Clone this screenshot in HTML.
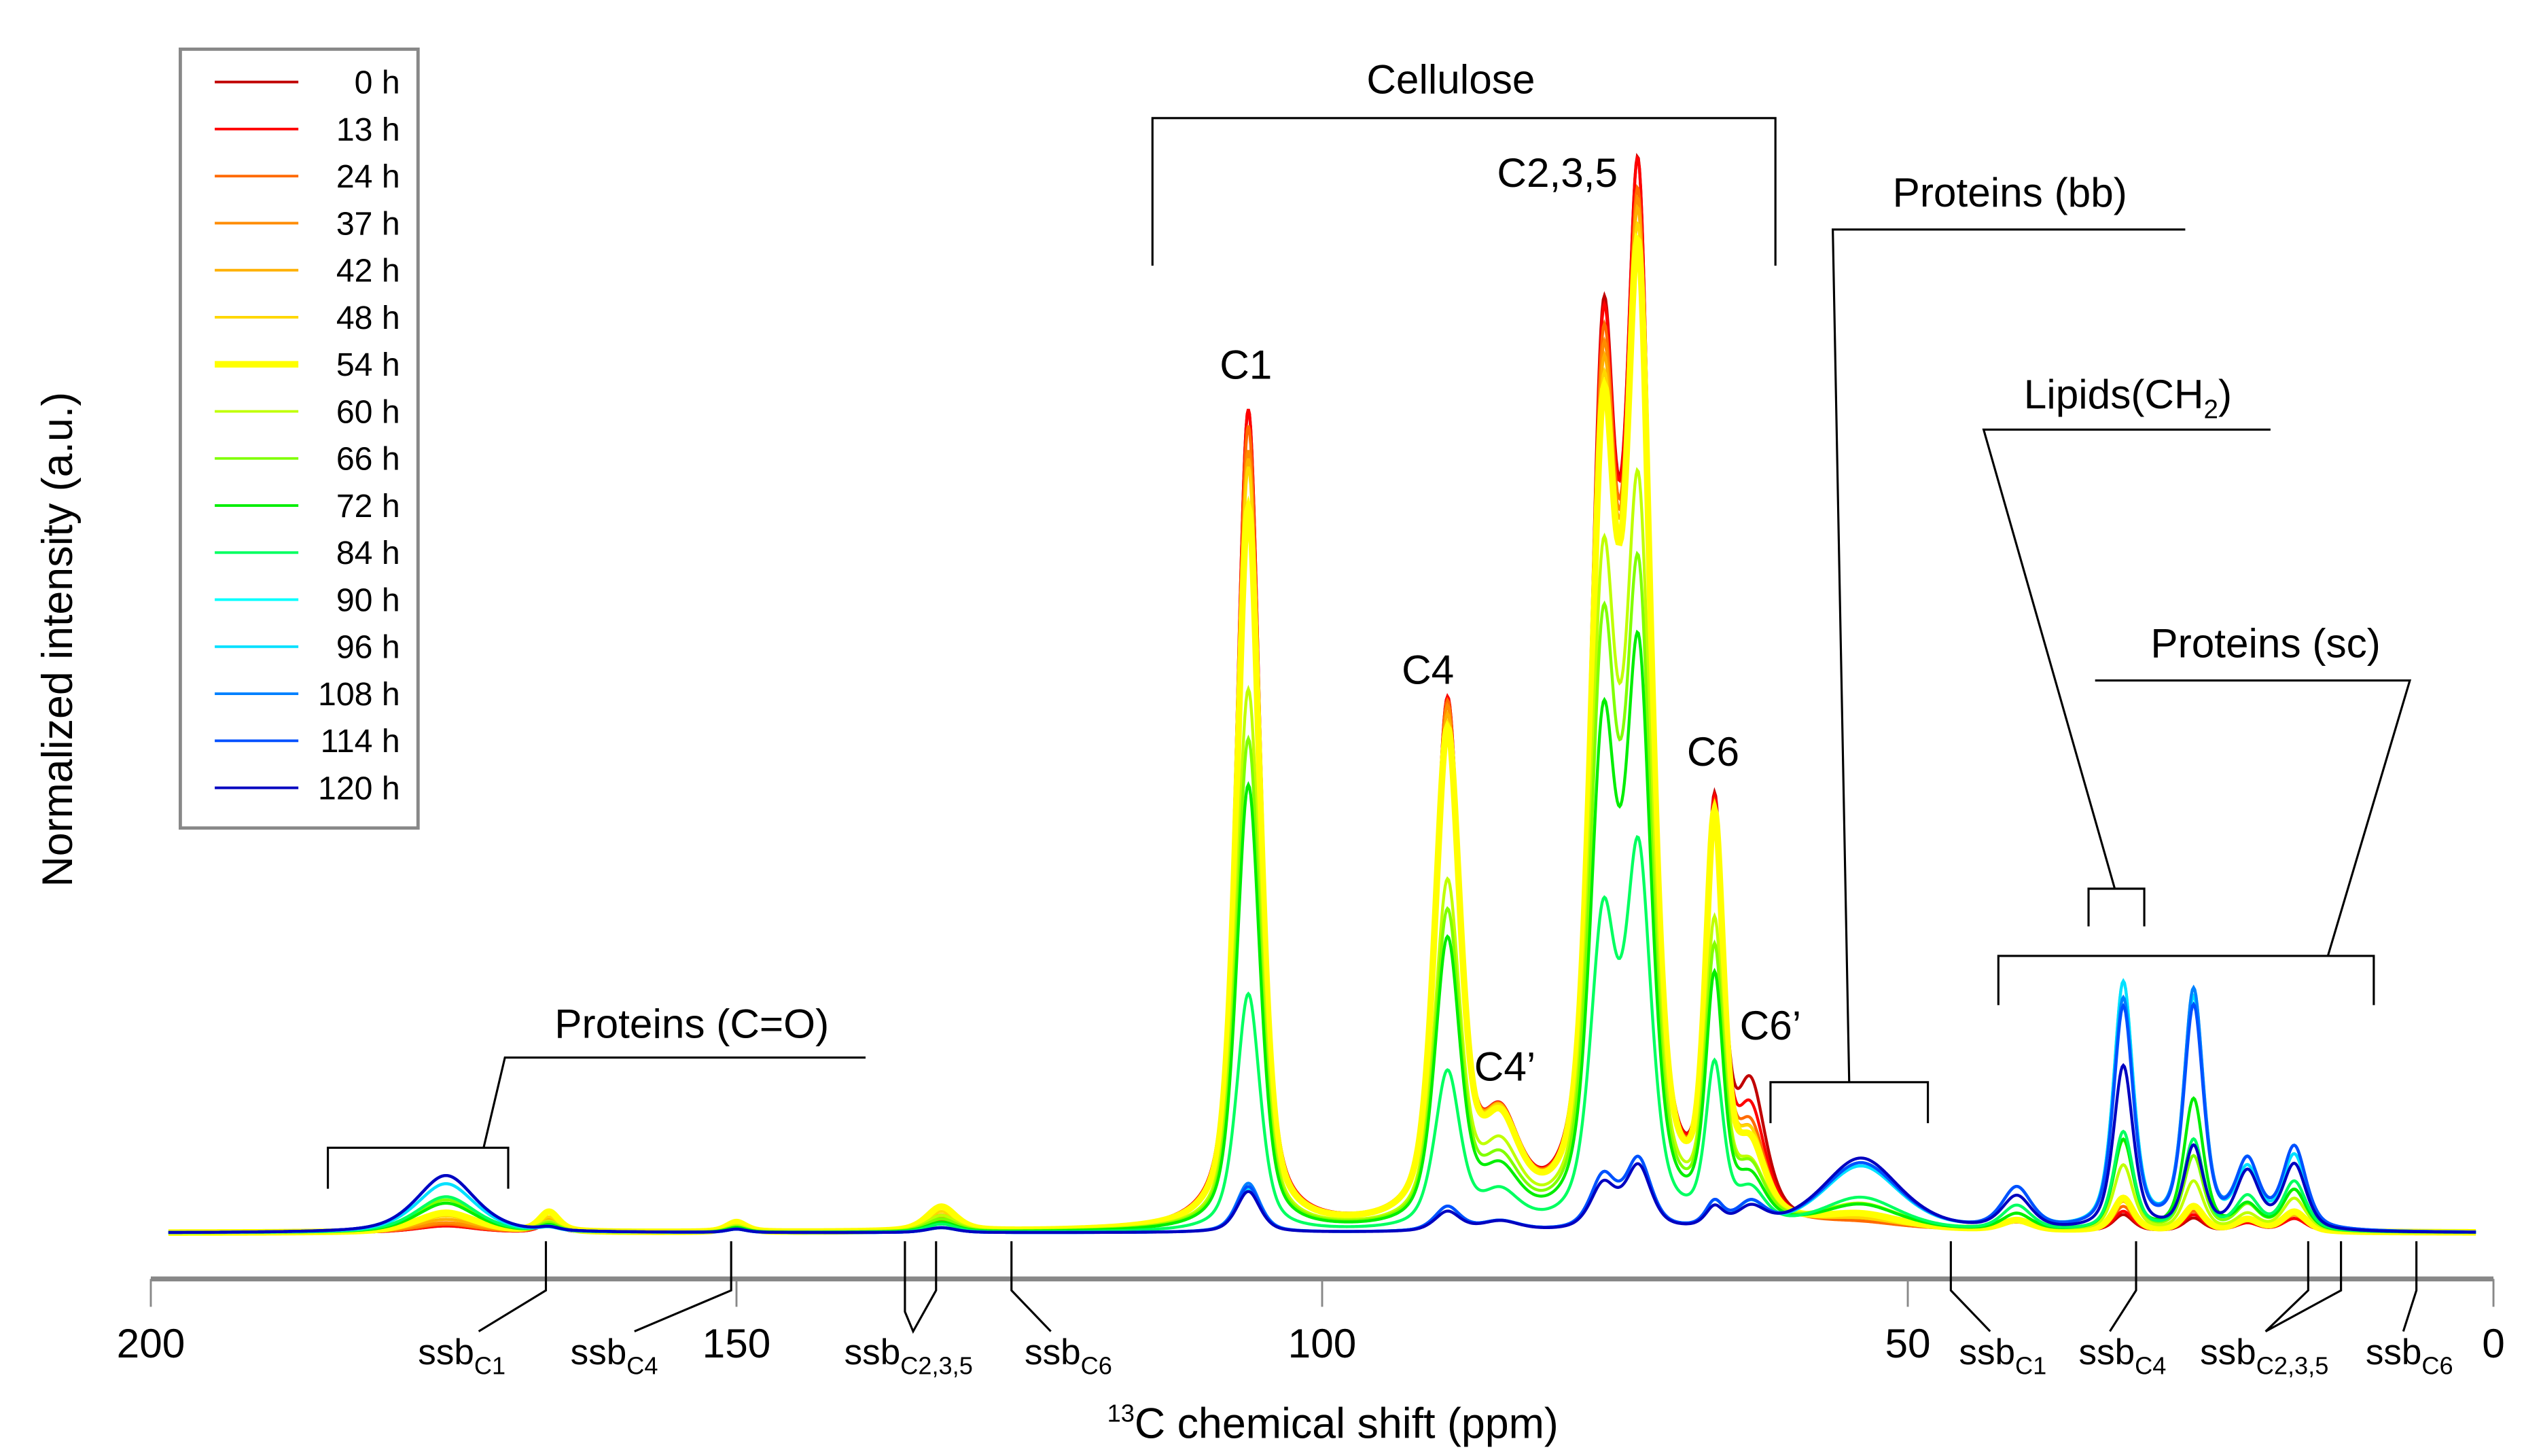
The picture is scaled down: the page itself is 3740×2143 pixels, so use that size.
<!DOCTYPE html>
<html><head><meta charset="utf-8"><style>
html,body{margin:0;padding:0;background:#fff;}
svg{display:block;font-family:"Liberation Sans",Arial,sans-serif;}
</style></head><body>
<svg id="chart" width="3740" height="2143" viewBox="0 0 1550 888" preserveAspectRatio="none" xmlns="http://www.w3.org/2000/svg">
<g id="series"></g>
<g id="axis" stroke="#888" fill="none">
<line x1="92" y1="780" x2="1521" y2="780" stroke-width="3"/>
</g>
<g id="ticks"></g>
<text x="813" y="877" font-size="26" text-anchor="middle"><tspan font-size="15" dy="-10">13</tspan><tspan dy="10">C chemical shift  (ppm)</tspan></text>
<text transform="translate(44,390) rotate(-90)" font-size="26" text-anchor="middle">Normalized intensity (a.u.)</text>
<g stroke="#000" stroke-width="1.3" fill="none">
<polyline points="703,162 703,72 1083,72 1083,162"/>
<polyline points="1333,140 1118,140 1128,660"/>
<polyline points="1080,685 1080,660 1176,660 1176,685"/>
<polyline points="1385,262 1210,262 1290,542"/>
<polyline points="1274,565 1274,542 1308,542 1308,565"/>
<polyline points="1278,415 1470,415 1420,583"/>
<polyline points="1219,613 1219,583 1448,583 1448,613"/>
<polyline points="528,645 308,645 295,700"/>
<polyline points="200,725 200,700 310,700 310,725"/>
<polyline points="333,757 333,787 292,812"/>
<polyline points="446,757 446,787 387,812"/>
<polyline points="552,757 552,800 557,812 571,787 571,757"/>
<polyline points="617,757 617,787 641,812"/>
<polyline points="1190,757 1190,787 1214,812"/>
<polyline points="1303,757 1303,787 1287,812"/>
<polyline points="1408,757 1408,787 1382,812 1428,787 1428,757"/>
<polyline points="1474,757 1474,787 1466,812"/>
</g>
<g font-size="25" text-anchor="middle" fill="#000">
<text x="885" y="57">Cellulose</text>
<text x="950" y="114">C2,3,5</text>
<text x="760" y="231">C1</text>
<text x="871" y="417">C4</text>
<text x="918" y="659">C4’</text>
<text x="1045" y="467">C6</text>
<text x="1080" y="634">C6’</text>
<text x="1226" y="126">Proteins (bb)</text>
<text x="1298" y="249">Lipids(CH<tspan font-size="16" dy="6">2</tspan><tspan dy="-6">)</tspan></text>
<text x="1382" y="401">Proteins (sc)</text>
<text x="422" y="633">Proteins (C=O)</text>
</g>
<g font-size="22" fill="#000">
<text x="255" y="832">ssb<tspan font-size="15" dy="6">C1</tspan></text>
<text x="348" y="832">ssb<tspan font-size="15" dy="6">C4</tspan></text>
<text x="515" y="832">ssb<tspan font-size="15" dy="6">C2,3,5</tspan></text>
<text x="625" y="832">ssb<tspan font-size="15" dy="6">C6</tspan></text>
<text x="1195" y="832">ssb<tspan font-size="15" dy="6">C1</tspan></text>
<text x="1268" y="832">ssb<tspan font-size="15" dy="6">C4</tspan></text>
<text x="1342" y="832">ssb<tspan font-size="15" dy="6">C2,3,5</tspan></text>
<text x="1443" y="832">ssb<tspan font-size="15" dy="6">C6</tspan></text>
</g>
<g id="legend">
<rect x="110" y="30" width="145" height="475" fill="#fff" stroke="#888" stroke-width="2"/>
</g>
</svg>
<script>
const series = ["0 h","13 h","24 h","37 h","42 h","48 h","54 h","60 h","66 h","72 h","84 h","90 h","96 h","108 h","114 h","120 h"];
const colors = ["#c00000","#ff0000","#ff6a00","#ff8c00","#ffb000","#ffd700","#ffff00","#c0ff00","#80ff00","#00ee00","#00ff60","#00ffff","#00e0ff","#0080ff","#0050ff","#0000c0"];
const tickValues = [200,150,100,50,0];
const peakPos = [106.3,89.3,84.8,76.0,73.0,66.5,63.4,54,40.7,31.6,25.6,21.0,17.0,174.8,166,150,132.5];
const ampC1 = [500,500,490,475,470,465,440,330,300,272,145,27,27,30,28,25];
const ampC4 = [315,315,313,310,305,300,297,207,190,174,95,15,15,15,15,12];
const ampC4p = [55,55,55,55,55,55,53,42,35,30,20,6,6,6,6,6];
const ampC2a = [505,500,490,480,472,463,455,378,342,288,180,32,32,32,32,27];
const ampC2b = [600,600,583,578,573,564,555,423,376,334,221,42,42,42,42,38];
const ampC6 = [240,240,238,236,236,235,235,175,160,145,95,15,15,15,15,12];
const ampC6p = [75,60,50,45,45,45,40,30,30,25,20,15,15,15,15,12];
const ampBB = [3,3,3,5,5,5,8,15,15,15,20,40,40,42,42,45];
const ampL40 = [5,5,5,5,6,6,6,10,10,10,15,25,25,25,25,20];
const ampL31 = [10,12,15,18,18,20,20,40,55,55,60,150,150,140,135,100];
const ampL25 = [8,10,12,14,14,15,15,30,45,80,55,145,140,145,135,50];
const ampL21 = [5,5,6,6,6,7,7,10,15,15,20,35,35,40,40,35];
const ampL17 = [8,8,10,10,10,12,12,20,25,25,30,45,45,50,50,40];
const ampCO = [4,4,5,6,8,10,12,18,20,18,22,30,30,35,35,35];
const ampS166 = [5,5,6,7,8,9,12,6,5,4,3,2,2,2,2,2];
const ampS150 = [3,3,4,4,5,6,6,4,3,3,2,2,2,2,2,2];
const ampS132 = [6,6,7,8,10,12,15,10,8,6,5,3,3,3,3,3];
const amps = [ampC1,ampC4,ampC4p,ampC2a,ampC2b,ampC6,ampC6p,ampBB,ampL40,ampL31,ampL25,ampL21,ampL17,ampCO,ampS166,ampS150,ampS132];
const widths = [1.2,1.3,2.0,1.3,1.3,0.9,1.5,4.0,1.5,1.0,1.0,1.2,1.2,3.0,1.0,1.0,1.5];
const NS="http://www.w3.org/2000/svg";
function xS(p){return 92+(200-p)*7.145;}
function yS(v){return 752-v;}
function shape(p,c,w){const d=(p-c)/w;return 0.55/(1+d*d)+0.45*Math.exp(-0.693*d*d);}
const sg=document.getElementById('series');
for(let s=0;s<series.length;s++){
  let pts=[];
  for(let p=198.5;p>=1.5;p-=0.1){
    let v=0;
    for(let k=0;k<peakPos.length;k++) v+=amps[k][s]*shape(p,peakPos[k],widths[k]);
    pts.push(xS(p).toFixed(2)+','+yS(v).toFixed(2));
  }
  const pl=document.createElementNS(NS,'polyline');
  
  
  pl.setAttribute('points',pts.join(' '));
  pl.setAttribute('fill','none');
  pl.setAttribute('stroke',colors[s]);
  pl.setAttribute('stroke-width',s===6?4:1.8);
  sg.appendChild(pl);
}
const tg=document.getElementById('ticks');
tickValues.forEach(t=>{
  const l=document.createElementNS(NS,'line');
  
  
  l.setAttribute('x1',xS(t));l.setAttribute('x2',xS(t));
  l.setAttribute('y1',780);l.setAttribute('y2',797);
  l.setAttribute('stroke','#888');l.setAttribute('stroke-width',1.2);
  tg.appendChild(l);
  const tx=document.createElementNS(NS,'text');
  
  
  tx.setAttribute('x',xS(t));tx.setAttribute('y',828);
  tx.setAttribute('font-size',25);tx.setAttribute('text-anchor','middle');
  tx.textContent=t;
  tg.appendChild(tx);
});
const lg=document.getElementById('legend');
series.forEach((name,i)=>{
  const y=50+i*28.7;
  const l=document.createElementNS(NS,'line');
  
  
  l.setAttribute('x1',131);l.setAttribute('x2',182);l.setAttribute('y1',y);l.setAttribute('y2',y);
  l.setAttribute('stroke',colors[i]);l.setAttribute('stroke-width',i===6?4:1.6);
  lg.appendChild(l);
  const tx=document.createElementNS(NS,'text');
  
  
  tx.setAttribute('x',244);tx.setAttribute('y',y+7);
  tx.setAttribute('font-size',20);tx.setAttribute('text-anchor','end');
  tx.textContent=name;
  lg.appendChild(tx);
});
</script>
</body></html>
